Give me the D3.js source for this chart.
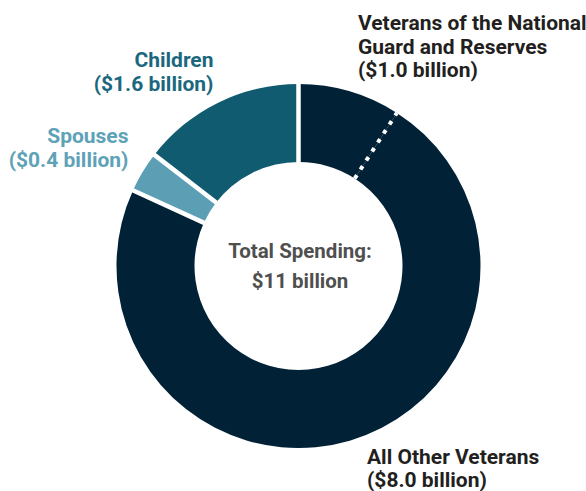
<!DOCTYPE html>
<html>
<head>
<meta charset="utf-8">
<script src="https://cdn.jsdelivr.net/npm/d3@7"></script>
<style>
  html, body { margin: 0; padding: 0; background: #fff; }
  svg { display: block; }
  text { font-family: Roboto, "Open Sans", sans-serif; font-weight: 700; }
</style>
</head>
<body>
<svg id="chart" width="586" height="491"></svg>
<script>
// Data (billions of dollars), clockwise from 12 o'clock
const categories = ["Veterans of the National Guard and Reserves", "All Other Veterans", "Spouses", "Children"];
const values = [1.0, 8.0, 0.4, 1.6];
const valueLabels = ["($1.0 billion)", "($8.0 billion)", "($0.4 billion)", "($1.6 billion)"];
const totalLabel = ["Total Spending:", "$11 billion"];

const colors = ["#012136", "#012136", "#5c9fb5", "#115b70"];
const labelColors = ["#231f20", "#231f20", "#5ea2b7", "#1b687e"];

const svg = d3.select("#chart");
const cx = 298.5, cy = 266, outerR = 182, innerR = 104;
const g = svg.append("g").attr("transform", `translate(${cx},${cy})`);

const pie = d3.pie().sort(null).value(d => d)(values);
const arc = d3.arc().innerRadius(innerR).outerRadius(outerR);

g.selectAll("path.slice").data(pie).join("path")
  .attr("class", "slice")
  .attr("d", arc)
  .attr("fill", (d, i) => colors[i]);

// separators at slice boundaries
pie.forEach((d, i) => {
  const a = d.startAngle;
  const dotted = (i === 1); // boundary between the two veteran groups
  const r0 = dotted ? innerR : innerR - 2, r1 = dotted ? outerR : outerR + 2;
  g.append("line")
    .attr("x1", r0 * Math.sin(a)).attr("y1", -r0 * Math.cos(a))
    .attr("x2", r1 * Math.sin(a)).attr("y2", -r1 * Math.cos(a))
    .attr("stroke", "#fff")
    .attr("stroke-width", dotted ? 4 : 4.5)
    .attr("stroke-dasharray", dotted ? "4,6.7" : null);
});

// center text
svg.append("text").attr("text-anchor", "middle").attr("x", 300).attr("y", 258)
  .attr("font-size", 20.5).attr("fill", "#4f4f4f").text(totalLabel[0]);
svg.append("text").attr("text-anchor", "middle").attr("x", 300).attr("y", 288)
  .attr("font-size", 20.5).attr("fill", "#4f4f4f").text(totalLabel[1]);

// category labels
const labelSpecs = [
  { i: 0, x: 358, y: 30, anchor: "start", lines: ["Veterans of the National", "Guard and Reserves"] },
  { i: 1, x: 367, y: 463.5, anchor: "start", lines: [categories[1]] },
  { i: 2, x: 128.5, y: 143, anchor: "end", lines: [categories[2]] },
  { i: 3, x: 213.5, y: 67, anchor: "end", lines: [categories[3]] }
];
const lh = 23.5;
labelSpecs.forEach(s => {
  const t = svg.append("text")
    .attr("text-anchor", s.anchor)
    .attr("font-size", 21)
    .attr("fill", labelColors[s.i]);
  const lines = s.lines.concat([valueLabels[s.i]]);
  lines.forEach((ln, k) => {
    t.append("tspan").attr("x", s.x).attr("y", s.y + k * lh).text(ln);
  });
});
</script>
</body>
</html>
